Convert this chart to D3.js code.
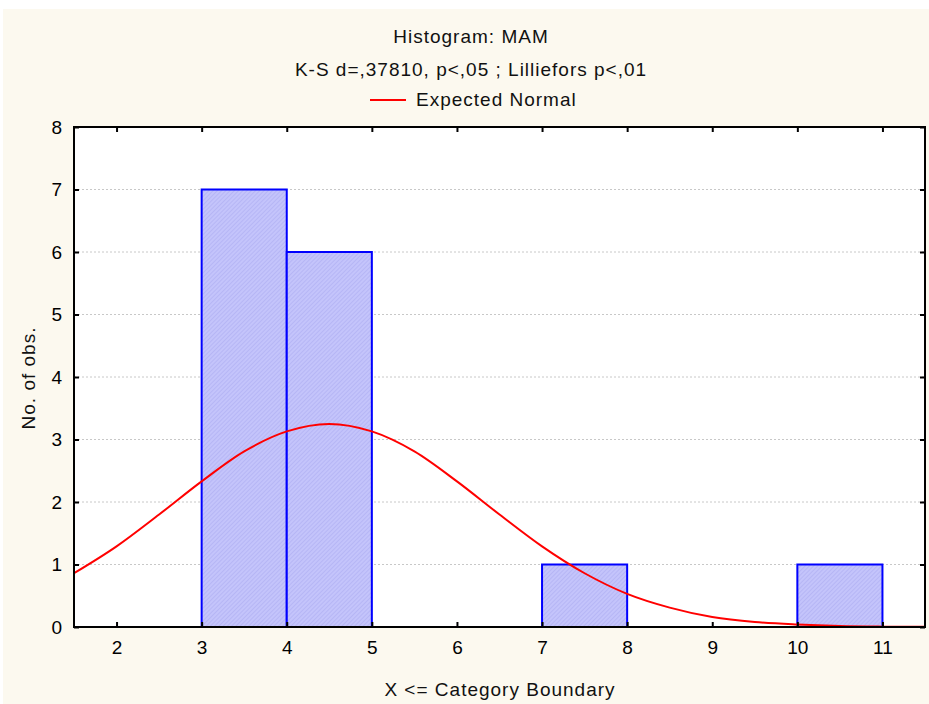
<!DOCTYPE html>
<html><head><meta charset="utf-8">
<script src="https://cdn.jsdelivr.net/npm/d3@7"></script>
<style>html,body{margin:0;padding:0;background:#fff;}svg{display:block;}</style>
</head><body>
<script>
// Histogram bins (lower, upper boundary) and counts
const binLower = [3, 4, 7, 10];
const binUpper = [4, 5, 8, 11];
const binCount = [7, 6, 1, 1];
// Expected normal curve
const curveX = [1.5, 2, 2.5, 3, 3.5, 4, 4.5, 5, 5.5, 6, 6.5, 7, 7.5, 8, 8.5, 9, 9.5, 10, 10.5, 11, 11.5];
const curveY = [0.86, 1.29, 1.80, 2.33, 2.81, 3.13, 3.25, 3.13, 2.81, 2.33, 1.80, 1.29, 0.86, 0.53, 0.31, 0.16, 0.08, 0.04, 0.016, 0.006, 0.002];
const xTicks = [2, 3, 4, 5, 6, 7, 8, 9, 10, 11];
const yTicks = [0, 1, 2, 3, 4, 5, 6, 7, 8];
const titleText = "Histogram: MAM";
const subtitleText = "K-S d=,37810, p<,05 ; Lilliefors p<,01";
const legendText = "Expected Normal";
const xTitle = "X <= Category Boundary";
const yTitle = "No. of obs.";

const W = 929, H = 704;
const L = 74, R = 925, T = 127, B = 627;
const font = "'Liberation Sans', Arial, sans-serif";
const fs = 19, ls = 1;

const svg = d3.select("body").append("svg").attr("width", W).attr("height", H);
svg.append("rect").attr("x", 3).attr("y", 9).attr("width", W - 3).attr("height", H - 9).attr("fill", "#fcf9ef");

const defs = svg.append("defs");
const pat = defs.append("pattern").attr("id", "hatch").attr("patternUnits", "userSpaceOnUse")
  .attr("width", 3).attr("height", 3).attr("patternTransform", "rotate(45)");
pat.append("rect").attr("width", 3).attr("height", 3).attr("fill", "#c4c4fb");
pat.append("line").attr("x1", 0).attr("y1", 0).attr("x2", 0).attr("y2", 3).attr("stroke", "#a9a9ef").attr("stroke-width", 1);

const x = d3.scaleLinear().domain([1.5, 11.5]).range([L, R]);
const y = d3.scaleLinear().domain([0, 8]).range([B, T]);

svg.append("rect").attr("x", L).attr("y", T).attr("width", R - L).attr("height", B - T).attr("fill", "#fff");

// grid
svg.append("g").selectAll("line").data(yTicks.filter(d => d > 0 && d < 8)).join("line")
  .attr("x1", L).attr("x2", R).attr("y1", d => y(d)).attr("y2", d => y(d))
  .attr("stroke", "#c8c8c8").attr("stroke-width", 1).attr("stroke-dasharray", "2,2");

// bars
svg.append("g").selectAll("rect").data(binCount).join("rect")
  .attr("x", (d, i) => x(binLower[i])).attr("y", d => y(d))
  .attr("width", (d, i) => x(binUpper[i]) - x(binLower[i])).attr("height", d => B - y(d))
  .attr("fill", "url(#hatch)").attr("stroke", "#0000ff").attr("stroke-width", 2);

// curve
const clip = defs.append("clipPath").attr("id", "clip");
clip.append("rect").attr("x", L).attr("y", T).attr("width", R - L).attr("height", B - T);
svg.append("path").datum(curveX.map((v, i) => [v, curveY[i]]))
  .attr("clip-path", "url(#clip)")
  .attr("d", d3.line().x(d => x(d[0])).y(d => y(d[1])).curve(d3.curveMonotoneX))
  .attr("fill", "none").attr("stroke", "#ff0000").attr("stroke-width", 2);

// axes
const axB = svg.append("g").attr("transform", `translate(0,${B})`)
  .call(d3.axisBottom(x).tickValues(xTicks).tickSize(-5).tickPadding(14).tickFormat(d3.format("d")));
const axT = svg.append("g").attr("transform", `translate(0,${T})`)
  .call(d3.axisTop(x).tickValues(xTicks).tickSize(-5).tickFormat(""));
const axL = svg.append("g").attr("transform", `translate(${L},0)`)
  .call(d3.axisLeft(y).tickValues(yTicks).tickSize(-5).tickPadding(12).tickFormat(d3.format("d")));
const axR = svg.append("g").attr("transform", `translate(${R},0)`)
  .call(d3.axisRight(y).tickValues(yTicks).tickSize(-5).tickFormat(""));
[axB, axT, axL, axR].forEach(a => {
  a.select(".domain").remove();
  a.selectAll(".tick line").attr("stroke", "#000").attr("stroke-width", 2);
  a.selectAll("text").attr("font-family", font).attr("font-size", fs).attr("fill", "#000");
});
svg.append("rect").attr("x", L).attr("y", T).attr("width", R - L).attr("height", B - T)
  .attr("fill", "none").attr("stroke", "#000").attr("stroke-width", 2);

// titles
function txt(xp, yp, s, anchor) {
  return svg.append("text").attr("x", xp).attr("y", yp).attr("text-anchor", anchor || "middle")
    .attr("font-family", font).attr("font-size", fs).attr("letter-spacing", ls)
    .attr("fill", "#111").text(s);
}
const tx = 471;
txt(tx, 43, titleText);
txt(tx, 76, subtitleText);
svg.append("line").attr("x1", 370).attr("x2", 406).attr("y1", 100).attr("y2", 100)
  .attr("stroke", "#ff0000").attr("stroke-width", 2);
txt(416, 106, legendText, "start");
txt(500, 696, xTitle);
svg.append("text").attr("transform", `translate(35,378) rotate(-90)`).attr("text-anchor", "middle")
  .attr("font-family", font).attr("font-size", fs).attr("letter-spacing", ls)
  .attr("fill", "#111").text(yTitle);
</script>
</body></html>
